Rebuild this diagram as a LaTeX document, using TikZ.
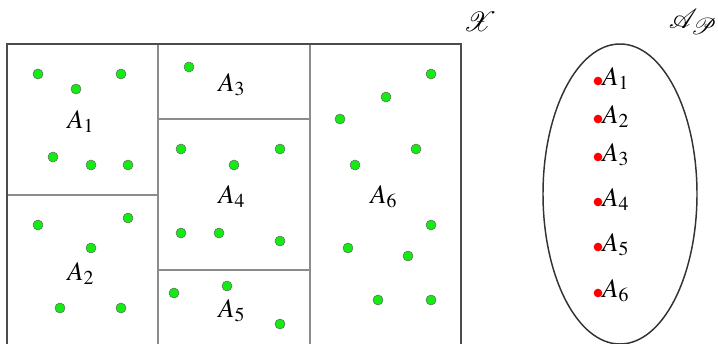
\documentclass[tikz,border=0pt]{standalone}
\usepackage{mathptmx}
\usepackage{mathrsfs}
\definecolor{vert}{RGB}{20,235,20}
\begin{document}
\begin{tikzpicture}[x=0.75pt,y=-0.75pt]
	% Styles
	\tikzstyle{cadre}=[draw=black!70,line width=1.5pt]
	\tikzstyle{trait}=[draw=black!45,line width=1.3pt]
	\tikzstyle{point}=[circle,draw=black!60,fill=vert,inner sep=0pt,minimum size=7.5pt]
	\tikzstyle{pointrouge}=[circle,fill=red,inner sep=0pt,minimum size=6.5pt]
	\tikzstyle{cellule}=[anchor=base west,inner sep=0pt,font=\fontsize{20}{24}\selectfont]
	\tikzstyle{element}=[anchor=base west,inner sep=0pt,font=\fontsize{20}{24}\selectfont]
	\tikzstyle{ensemble}=[font=\fontsize{22}{26}\selectfont]
	% Cadre
	\useasboundingbox (0,0) rectangle (718,343);
	\clip (0,0) rectangle (718,343);
	% Partition
	\draw[trait] (158,44)--(158,360);
	\draw[trait] (310,44)--(310,360);
	\draw[trait] (7,195)--(158,195);
	\draw[trait] (158,119)--(310,119);
	\draw[trait] (158,270)--(310,270);
	\draw[cadre] (7,44) rectangle (461,360);
	% Cellules
	\node[cellule] (A1) at (67,128) {$A_1$};
	\node[cellule] (A2) at (67,280) {$A_2$};
	\node[cellule] (A3) at (218,91) {$A_3$};
	\node[cellule] (A4) at (218,203) {$A_4$};
	\node[cellule] (A5) at (218,317) {$A_5$};
	\node[cellule] (A6) at (370,203) {$A_6$};
	% Points
	\foreach \x/\y [count=\i] in {38/74,76/89,121/74,53/157,91/165,128/165,
		38/225,128/218,91/248,60/308,121/308,
		189/67,
		181/149,234/165,280/149,181/233,219/233,280/241,
		174/293,227/286,280/324,
		431/74,386/97,340/119,416/149,355/165,431/225,348/248,408/256,378/300,431/300}
		\node[point] (p\i) at (\x,\y) {};
	% Ensemble des parties
	\draw[draw=black!80,line width=1.1pt] (620,194) ellipse [x radius=77, y radius=150];
	\foreach \y [count=\i] in {81,119,157,202,247,293}
	{
		\node[pointrouge] (r\i) at (598,\y) {};
		\node[element] (e\i) at (602,\y+4) {$A_{\i}$};
	}
	% Noms
	\node[ensemble] (X) at (480,22) {$\mathscr{X}$};
	\node[ensemble] (AP) at (693,22) {$\mathscr{A}_{\mathscr{P}}$};
\end{tikzpicture}
\end{document}
